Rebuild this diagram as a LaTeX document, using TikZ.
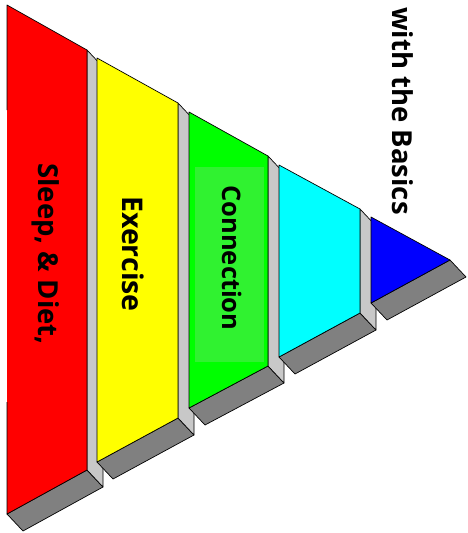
\documentclass[tikz,border=0pt]{standalone}
\usepackage{fontspec}
\setmainfont{Open Sans}
\definecolor{cRed}{RGB}{255,0,0}
\definecolor{cYellow}{RGB}{255,255,0}
\definecolor{cGreen}{RGB}{0,255,0}
\definecolor{cGreenLight}{RGB}{48,242,48}
\definecolor{cCyan}{RGB}{0,255,255}
\definecolor{cBlue}{RGB}{0,0,255}
\definecolor{cSide}{RGB}{200,200,200}
\definecolor{cBase}{RGB}{128,128,128}
\tikzset{
	edge/.style     ={draw=black, line width=0.7pt, line join=round},
	front/.style    ={edge},
	sideface/.style ={edge, fill=cSide},
	baseface/.style ={edge, fill=cBase},
	tierlabel/.style={rotate=-90, anchor=base, inner sep=0pt, text=black, font=\bfseries\fontsize{#1}{#1}\selectfont},
}
\begin{document}
\begin{tikzpicture}[x=1pt, y=-1pt]
	\useasboundingbox (0,0) rectangle (467,533);
	% red tier
	\draw[baseface] (7,514) -- (87,470) -- (103,487) -- (23,531) -- cycle;
	\draw[sideface] (87,50) -- (103,67) -- (103,487) -- (87,470) -- cycle;
	\fill[cRed] (7,5) -- (87,50) -- (87,470) -- (7,514) -- cycle;
	\draw[edge] (7,110) -- (7,5) -- (87,50) -- (87,470) -- (7,514) -- (7,402);
	% yellow tier
	\draw[baseface] (97,462) -- (178,418) -- (194,435) -- (113,479) -- cycle;
	\draw[sideface] (178,103) -- (194,120) -- (194,435) -- (178,418) -- cycle;
	\draw[front, fill=cYellow] (97,58) -- (178,103) -- (178,418) -- (97,462) -- cycle;
	% green tier
	\draw[baseface] (189,408) -- (268,366) -- (284,383) -- (205,425) -- cycle;
	\draw[sideface] (268,156) -- (284,173) -- (284,383) -- (268,366) -- cycle;
	\draw[front, fill=cGreen] (189,112) -- (268,156) -- (268,366) -- (189,408) -- cycle;
	\fill[cGreenLight] (195,167) rectangle (264,362);
	% cyan tier
	\draw[baseface] (279,357) -- (360,313) -- (376,330) -- (295,374) -- cycle;
	\draw[sideface] (360,209) -- (376,226) -- (376,330) -- (360,313) -- cycle;
	\draw[front, fill=cCyan] (279,165) -- (360,209) -- (360,313) -- (279,357) -- cycle;
	% blue tip
	\draw[baseface] (371,303) -- (450,260) -- (466,277) -- (387,320) -- cycle;
	\draw[front, fill=cBlue] (371,217) -- (450,260) -- (371,303) -- cycle;
	% labels
	\node[tierlabel=27.5] (sleep) at (38,254) {Sleep, \& Diet,};
	\node[tierlabel=28.5] (exercise) at (122,254) {Exercise};
	\node[tierlabel=25.5] (connection) at (222,258) {Connection};
	\node[tierlabel=27.5] (basics) at (392,111) {with the Basics};
\end{tikzpicture}
\end{document}
